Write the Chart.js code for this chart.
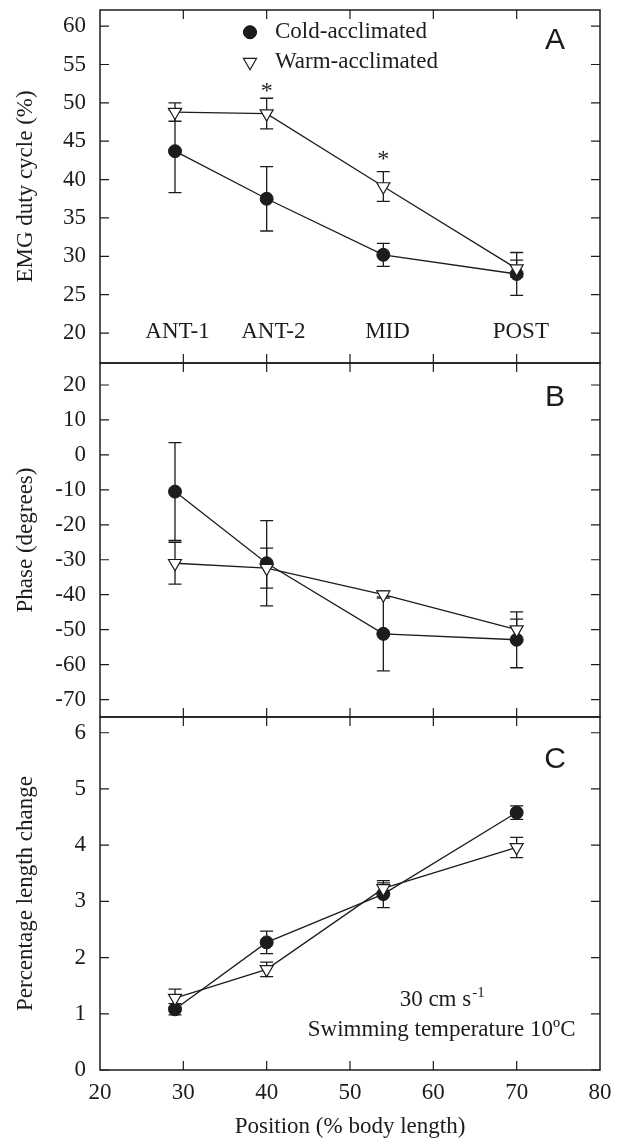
<!DOCTYPE html>
<html><head><meta charset="utf-8">
<script src="https://cdn.jsdelivr.net/npm/chart.js@4/dist/chart.umd.min.js"></script>
<style>
html,body{margin:0;padding:0;background:#fff;}
#wrap{position:relative;width:624px;height:1141px;background:#fff;}
canvas{position:absolute;left:0;top:0;}
</style></head><body>
<div id="wrap">
<canvas id="cA" width="624" height="1141"></canvas>
<canvas id="cB" width="624" height="1141"></canvas>
<canvas id="cC" width="624" height="1141"></canvas>
</div>
<script>
// ---- data ----
const positions = [29, 40, 54, 70];
const regionLabels = ['ANT-1', 'ANT-2', 'MID', 'POST'];
const regionLabelX = [29.3, 40.8, 54.5, 70.5];
const regionLabelY = 20.1;

const dutyCold = [43.7, 37.5, 30.2, 27.7];
const dutyColdErr = [5.4, 4.2, 1.5, 2.8];
const dutyWarm = [48.8, 48.6, 39.1, 28.4];
const dutyWarmErr = [1.2, 2.0, 1.95, 1.1];
const starX = [40, 54];
const starY = [52.1, 43.3];

const phaseCold = [-10.5, -31, -51.2, -52.9];
const phaseColdErr = [14, 12.2, 10.6, 8];
const phaseWarm = [-31, -32.4, -40, -50];
const phaseWarmErr = [6, 5.7, 1, 3];

const lenCold = [1.08, 2.27, 3.13, 4.58];
const lenColdErr = [0.1, 0.2, 0.24, 0.12];
const lenWarm = [1.28, 1.79, 3.23, 3.96];
const lenWarmErr = [0.16, 0.13, 0.1, 0.18];

const xTicks = [20, 30, 40, 50, 60, 70, 80];
const dutyTicks = [20, 25, 30, 35, 40, 45, 50, 55, 60];
const phaseTicks = [-70, -60, -50, -40, -30, -20, -10, 0, 10, 20];
const lenTicks = [0, 1, 2, 3, 4, 5, 6];

const seriesNames = ['Cold-acclimated', 'Warm-acclimated'];

// ---- style ----
const SERIF = '"Liberation Serif","Times New Roman",serif';
const SANS = '"Liberation Sans",Arial,sans-serif';
const INK = '#1c1c1c';
const FS = 23;

const framePlugin = {
  id: 'frame',
  beforeDatasetsDraw(chart) {
    const {ctx, scales: {x, y}} = chart;
    ctx.save();
    ctx.strokeStyle = INK;
    ctx.lineWidth = 1.3;
    chart.data.datasets.forEach(ds => {
      ds.data.forEach((p, i) => {
        const e = ds.errors[i];
        const px = x.getPixelForValue(p.x);
        const y1 = y.getPixelForValue(p.y + e);
        const y2 = y.getPixelForValue(p.y - e);
        ctx.beginPath();
        ctx.moveTo(px, y1); ctx.lineTo(px, y2);
        ctx.moveTo(px - 6.5, y1); ctx.lineTo(px + 6.5, y1);
        ctx.moveTo(px - 6.5, y2); ctx.lineTo(px + 6.5, y2);
        ctx.stroke();
      });
    });
    ctx.restore();
  },
  afterDraw(chart) {
    const {ctx, chartArea: a, scales: {x, y}} = chart;
    ctx.save();
    ctx.strokeStyle = INK;
    ctx.lineWidth = 1.5;
    ctx.strokeRect(a.left, a.top, a.right - a.left, a.bottom - a.top);
    const tl = 9;
    ctx.beginPath();
    xTicks.forEach(v => {
      if (v <= x.min || v >= x.max) return;
      const px = x.getPixelForValue(v);
      ctx.moveTo(px, a.top); ctx.lineTo(px, a.top + tl);
      ctx.moveTo(px, a.bottom); ctx.lineTo(px, a.bottom - tl);
    });
    y.ticks.forEach(t => {
      const py = y.getPixelForValue(t.value);
      ctx.moveTo(a.left, py); ctx.lineTo(a.left + tl, py);
      ctx.moveTo(a.right, py); ctx.lineTo(a.right - tl, py);
    });
    ctx.lineWidth = 1.2;
    ctx.stroke();
    ctx.restore();
  }
};

function panelLetter(chart, letter, vx, vy) {
  const {ctx, scales: {x, y}} = chart;
  ctx.save();
  ctx.fillStyle = INK;
  ctx.font = '30px ' + SANS;
  ctx.textAlign = 'center';
  ctx.textBaseline = 'middle';
  ctx.fillText(letter, x.getPixelForValue(vx), y.getPixelForValue(vy));
  ctx.restore();
}

const extraA = {
  id: 'extraA',
  afterDraw(chart) {
    const {ctx, scales: {x, y}} = chart;
    panelLetter(chart, 'A', 74.6, 58.05);
    ctx.save();
    ctx.fillStyle = INK;
    ctx.font = FS + 'px ' + SERIF;
    ctx.textBaseline = 'middle';
    ctx.textAlign = 'center';
    regionLabels.forEach((t, i) => ctx.fillText(t, x.getPixelForValue(regionLabelX[i]), y.getPixelForValue(regionLabelY)));
    ctx.font = '24px ' + SERIF;
    starX.forEach((sx, i) => ctx.fillText('*', x.getPixelForValue(sx), y.getPixelForValue(starY[i]) + 5));
    // legend
    const lx = x.getPixelForValue(38.0);
    const ly1 = y.getPixelForValue(59.2);
    const ly2 = y.getPixelForValue(55.3);
    Chart.helpers.drawPoint(ctx, {pointStyle: 'circle', radius: 6.5, rotation: 0, borderWidth: 1}, lx, ly1);
    ctx.fillStyle = INK;
    ctx.fill();
    ctx.strokeStyle = INK;
    ctx.lineWidth = 1.2;
    ctx.fillStyle = '#fff';
    Chart.helpers.drawPoint(ctx, {pointStyle: 'triangle', radius: 7.5, rotation: 180, borderWidth: 1.2}, lx, ly2);
    ctx.fillStyle = INK;
    ctx.textAlign = 'left';
    ctx.font = FS + 'px ' + SERIF;
    const tx = x.getPixelForValue(41.0);
    ctx.fillText(seriesNames[0], tx, ly1);
    ctx.fillText(seriesNames[1], tx, ly2);
    ctx.restore();
  }
};
const extraB = {
  id: 'extraB',
  afterDraw(chart) { panelLetter(chart, 'B', 74.6, 16.3); }
};
const extraC = {
  id: 'extraC',
  afterDraw(chart) {
    const {ctx, scales: {x, y}} = chart;
    panelLetter(chart, 'C', 74.6, 5.52);
    ctx.save();
    ctx.fillStyle = INK;
    ctx.textBaseline = 'middle';
    const cx = x.getPixelForValue(61.0);
    ctx.font = FS + 'px ' + SERIF;
    const main = '30 cm s';
    const w1 = ctx.measureText(main).width;
    ctx.font = '15px ' + SERIF;
    const sup = '-1';
    const w2 = ctx.measureText(sup).width;
    const y1 = y.getPixelForValue(1.25);
    const start = cx - (w1 + w2) / 2;
    ctx.textAlign = 'left';
    ctx.font = FS + 'px ' + SERIF;
    ctx.fillText(main, start, y1);
    ctx.font = '15px ' + SERIF;
    ctx.fillText(sup, start + w1 + 1, y1 - 7);
    ctx.font = FS + 'px ' + SERIF;
    ctx.textAlign = 'center';
    ctx.fillText('Swimming temperature 10\u00BAC', cx, y.getPixelForValue(0.71));
    ctx.restore();
  }
};

function makeChart(id, padTop, padBottom, yMin, yMax, yTicks, yTitle, cold, coldErr, warm, warmErr, showX, extra) {
  return new Chart(document.getElementById(id), {
    type: 'line',
    data: {
      datasets: [
        {
          label: seriesNames[1],
          data: positions.map((px, i) => ({x: px, y: warm[i]})),
          errors: warmErr,
          borderColor: INK, borderWidth: 1.3, tension: 0, fill: false,
          pointStyle: 'triangle', pointRotation: 180, pointRadius: 7.5,
          pointBackgroundColor: '#fff', pointBorderColor: INK, pointBorderWidth: 1.2
        },
        {
          label: seriesNames[0],
          data: positions.map((px, i) => ({x: px, y: cold[i]})),
          errors: coldErr,
          borderColor: INK, borderWidth: 1.3, tension: 0, fill: false,
          pointStyle: 'circle', pointRadius: 6.5,
          pointBackgroundColor: INK, pointBorderColor: INK, pointBorderWidth: 1
        }
      ]
    },
    options: {
      responsive: false, animation: false, devicePixelRatio: 1, events: [],
      layout: {padding: {left: 0, right: 24, top: padTop, bottom: padBottom}},
      plugins: {legend: {display: false}, tooltip: {enabled: false}},
      scales: {
        x: {
          type: 'linear', min: 20, max: 80, display: showX,
          afterBuildTicks: s => { s.ticks = xTicks.map(v => ({value: v})); },
          afterFit: s => { s.height = showX ? 71 : 0; s.paddingLeft = 0; s.paddingRight = 0; },
          grid: {display: false, drawTicks: false}, border: {display: false},
          ticks: {font: {family: SERIF, size: FS}, color: INK, padding: 9, autoSkip: false, maxRotation: 0},
          title: {display: true, text: 'Position (% body length)', font: {family: SERIF, size: FS}, color: INK, padding: {top: 0, bottom: 0}}
        },
        y: {
          type: 'linear', min: yMin, max: yMax,
          afterBuildTicks: s => { s.ticks = yTicks.map(v => ({value: v})); },
          afterFit: s => { s.width = 100; s.paddingTop = 0; s.paddingBottom = 0; },
          grid: {display: false, drawTicks: false}, border: {display: false},
          ticks: {font: {family: SERIF, size: FS}, color: INK, padding: 14},
          title: {display: true, text: yTitle, font: {family: SERIF, size: FS}, color: INK, padding: {top: 12, bottom: 0}}
        }
      }
    },
    plugins: [framePlugin, extra]
  });
}

makeChart('cA', 10, 1141 - 363, 16.1, 62.1, dutyTicks, 'EMG duty cycle (%)', dutyCold, dutyColdErr, dutyWarm, dutyWarmErr, false, extraA);
makeChart('cB', 363, 1141 - 717, -75, 26.3, phaseTicks, 'Phase (degrees)', phaseCold, phaseColdErr, phaseWarm, phaseWarmErr, false, extraB);
makeChart('cC', 717, 0, 0, 6.28, lenTicks, 'Percentage length change', lenCold, lenColdErr, lenWarm, lenWarmErr, true, extraC);
</script>
</body></html>
